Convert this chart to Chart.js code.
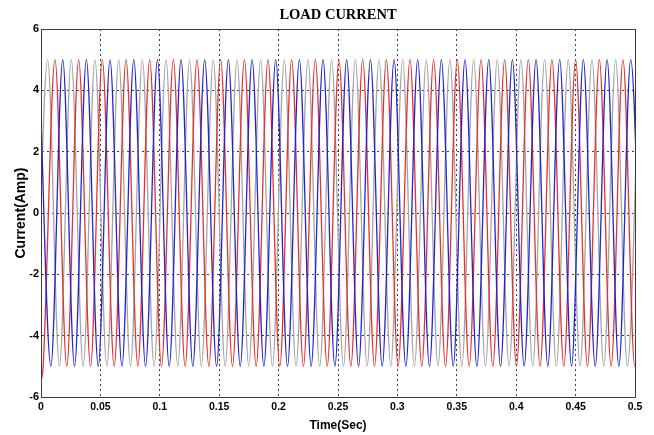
<!DOCTYPE html>
<html>
<head>
<meta charset="utf-8">
<title>Load Current</title>
<script src="https://cdn.jsdelivr.net/npm/chart.js@4/dist/chart.umd.min.js"></script>
<style>
  html, body { margin: 0; padding: 0; background: #fff; }
  #chart { display: block; }
</style>
</head>
<body>
<canvas id="chart" width="654" height="435"></canvas>
<script>
// peaks and troughs of each phase current (time in s, current in A)
let blueTimes = [
  -0.0016, 0.0083, 0.0183, 0.0282, 0.0382, 0.0482, 0.0581, 0.0681, 0.0781, 0.0880,
  0.0980, 0.1079, 0.1179, 0.1278, 0.1378, 0.1478, 0.1577, 0.1677, 0.1777, 0.1876,
  0.1976, 0.2075, 0.2175, 0.2274, 0.2374, 0.2474, 0.2573, 0.2673, 0.2773, 0.2872,
  0.2972, 0.3071, 0.3171, 0.3270, 0.3370, 0.3470, 0.3569, 0.3669, 0.3769, 0.3868,
  0.3968, 0.4067, 0.4167, 0.4266, 0.4366, 0.4466, 0.4565, 0.4665, 0.4765, 0.4864,
  0.4964, 0.5064
];
let blueAmps = [
  5, -5, 5, -5, 5, -5, 5, -5, 5, -5,
  5, -5, 5, -5, 5, -5, 5, -5, 5, -5,
  5, -5, 5, -5, 5, -5, 5, -5, 5, -5,
  5, -5, 5, -5, 5, -5, 5, -5, 5, -5,
  5, -5, 5, -5, 5, -5, 5, -5, 5, -5,
  5, -5
];

let redTimes = [
  0, 0.0018, 0.0118, 0.0217, 0.0317, 0.0417, 0.0516, 0.0616, 0.0716, 0.0815,
  0.0915, 0.1014, 0.1114, 0.1213, 0.1313, 0.1413, 0.1512, 0.1612, 0.1712, 0.1811,
  0.1911, 0.2010, 0.2110, 0.2209, 0.2309, 0.2409, 0.2508, 0.2608, 0.2708, 0.2807,
  0.2907, 0.3006, 0.3106, 0.3205, 0.3305, 0.3405, 0.3504, 0.3604, 0.3704, 0.3803,
  0.3903, 0.4002, 0.4102, 0.4201, 0.4301, 0.4401, 0.4500, 0.4600, 0.4700, 0.4799,
  0.4899, 0.4998, 0.5097
];
let redAmps = [
  -5.5, -5, 5, -5, 5, -5, 5, -5, 5, -5,
  5, -5, 5, -5, 5, -5, 5, -5, 5, -5,
  5, -5, 5, -5, 5, -5, 5, -5, 5, -5,
  5, -5, 5, -5, 5, -5, 5, -5, 5, -5,
  5, -5, 5, -5, 5, -5, 5, -5, 5, -5,
  5, -5, 5
];

let greyTimes = [
  -0.0044, 0.0056, 0.0155, 0.0255, 0.0355, 0.0454, 0.0554, 0.0654, 0.0753, 0.0853,
  0.0952, 0.1052, 0.1151, 0.1251, 0.1350, 0.1450, 0.1550, 0.1650, 0.1749, 0.1849,
  0.1948, 0.2048, 0.2147, 0.2247, 0.2346, 0.2446, 0.2546, 0.2646, 0.2745, 0.2845,
  0.2944, 0.3044, 0.3143, 0.3243, 0.3342, 0.3442, 0.3542, 0.3642, 0.3741, 0.3841,
  0.3940, 0.4040, 0.4139, 0.4239, 0.4338, 0.4438, 0.4538, 0.4638, 0.4737, 0.4837,
  0.4936, 0.5036
];
let greyAmps = [
  -5, 5, -5, 5, -5, 5, -5, 5, -5, 5,
  -5, 5, -5, 5, -5, 5, -5, 5, -5, 5,
  -5, 5, -5, 5, -5, 5, -5, 5, -5, 5,
  -5, 5, -5, 5, -5, 5, -5, 5, -5, 5,
  -5, 5, -5, 5, -5, 5, -5, 5, -5, 5,
  -5, 5
];

let timeTicks = [0, 0.05, 0.1, 0.15, 0.2, 0.25, 0.3, 0.35, 0.4, 0.45, 0.5];
let currentTicks = [-6, -4, -2, 0, 2, 4, 6];

function toPoints(times, amps) {
  return times.map((t, i) => ({ x: t, y: amps[i] }));
}

// closes the axes box on all four sides with a solid line
let frameBox = {
  id: "frameBox",
  afterDatasetsDraw(chart) {
    let { ctx, chartArea: a } = chart;
    ctx.save();
    ctx.setLineDash([]);
    ctx.strokeStyle = "#3c3c3c";
    ctx.lineWidth = 1;
    ctx.strokeRect(Math.round(a.left) + 0.5, Math.round(a.top) + 0.5,
      Math.round(a.right - a.left), Math.round(a.bottom - a.top));
    ctx.restore();
  },
};

let gridStyle = {
  color: "rgba(0,0,0,0.75)",
  lineWidth: 1,
  drawTicks: false,
};
// dotted grid lines (v4 puts the grid dash under border)
let borderStyle = { display: true, color: "#3c3c3c", dash: [2, 3] };
let tickFont = { family: "'Liberation Sans', Arial, sans-serif", weight: "bold" };

new Chart(document.getElementById("chart"), {
  type: "line",
  data: {
    datasets: [
      { label: "Ic", data: toPoints(blueTimes, blueAmps), borderColor: "rgb(35,35,210)" },
      { label: "Ib", data: toPoints(redTimes, redAmps), borderColor: "rgb(228,50,50)" },
      { label: "Ia", data: toPoints(greyTimes, greyAmps), borderColor: "rgb(165,165,165)" },
    ],
  },
  options: {
    responsive: false,
    animation: false,
    layout: { padding: { left: 0, right: 19, top: 0, bottom: 0 } },
    elements: {
      point: { radius: 0 },
      line: { borderWidth: 1.3, cubicInterpolationMode: "monotone", fill: false },
    },
    plugins: {
      legend: { display: false },
      tooltip: { enabled: false },
      title: {
        display: true,
        fullSize: false,
        text: "LOAD CURRENT",
        color: "#000",
        font: { family: "'Liberation Serif', 'Times New Roman', serif", size: 14.5, weight: "bold" },
        padding: { top: 6.6, bottom: 5 },
      },
    },
    scales: {
      x: {
        type: "linear",
        min: 0,
        max: 0.5,
        afterBuildTicks(s) { s.ticks = timeTicks.map((v) => ({ value: v })); },
        afterFit(s) { s.height = 38; },
        ticks: {
          autoSkip: false,
          maxRotation: 0,
          padding: 4,
          color: "#000",
          font: { ...tickFont, size: 10.5 },
          callback: (v) => String(Math.round(v * 100) / 100),
        },
        grid: gridStyle,
        border: borderStyle,
        title: {
          display: true,
          text: "Time(Sec)",
          color: "#000",
          font: { ...tickFont, size: 12 },
          padding: { top: 0, bottom: 2 },
        },
      },
      y: {
        min: -6,
        max: 6,
        afterBuildTicks(s) { s.ticks = currentTicks.map((v) => ({ value: v })); },
        afterFit(s) { s.width = 41; },
        ticks: {
          padding: 2,
          color: "#000",
          font: { ...tickFont, size: 11 },
        },
        grid: gridStyle,
        border: borderStyle,
        title: {
          display: true,
          text: "Current(Amp)",
          color: "#000",
          font: { ...tickFont, size: 14 },
          padding: { top: 13, bottom: 0 },
        },
      },
    },
  },
  plugins: [frameBox],
});
</script>
</body>
</html>
